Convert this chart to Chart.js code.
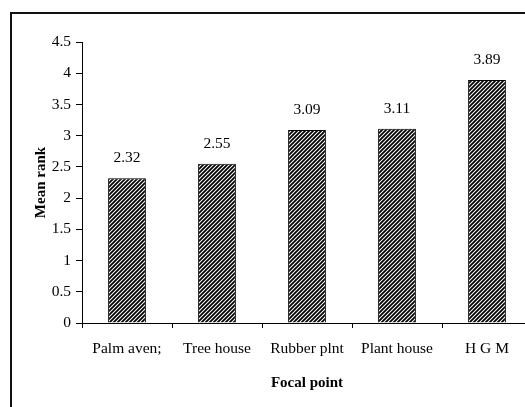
<!DOCTYPE html>
<html lang="en">
  <head>
    <meta charset="UTF-8" />
    <title>Mean rank by focal point</title>
    <script src="https://cdn.jsdelivr.net/npm/chart.js"></script>
    <style>
      html, body { margin: 0; padding: 0; overflow: hidden; background: #fff; width: 525px; height: 407px; }
      .quadro { position: absolute; left: 10px; top: 12px; width: 600px; height: 500px;
                border-left: 2px solid #111; border-top: 2px solid #111; }
      .grafico { position: absolute; left: 0; top: 0; width: 545px; height: 407px; }
    </style>
  </head>
  <body>
    <div class="quadro"></div>
    <div class="grafico"><canvas id="meuGrafico" width="545" height="407"></canvas></div>

    <script>
      // dados
      const categorias = ["Palm aven;", "Tree house", "Rubber plnt", "Plant house", "H G M"];
      const medias = [2.32, 2.55, 3.09, 3.11, 3.89];
      const rotulos = ["2.32", "2.55", "3.09", "3.11", "3.89"];
      const ticksY = [0, 0.5, 1, 1.5, 2, 2.5, 3, 3.5, 4, 4.5];

      // padrão hachurado (listras diagonais)
      function criarHachura() {
        const c = document.createElement("canvas");
        c.width = 4;
        c.height = 4;
        const g = c.getContext("2d");
        g.fillStyle = "#fff";
        g.fillRect(0, 0, 4, 4);
        g.strokeStyle = "#000";
        g.lineWidth = 1.8;
        g.beginPath();
        g.moveTo(-1, 5); g.lineTo(5, -1);
        g.moveTo(-1, 1); g.lineTo(1, -1);
        g.moveTo(3, 5); g.lineTo(5, 3);
        g.stroke();
        return g.createPattern(c, "repeat");
      }

      // escreve os valores acima das barras
      const valoresNasBarras = {
        id: "valoresNasBarras",
        afterDatasetsDraw(chart) {
          const ctx = chart.ctx;
          const meta = chart.getDatasetMeta(0);
          ctx.save();
          ctx.font = "15.5px 'Liberation Serif'";
          ctx.fillStyle = "#000";
          ctx.textAlign = "center";
          ctx.textBaseline = "middle";
          meta.data.forEach(function (barra, i) {
            ctx.fillText(rotulos[i], barra.x, barra.y - 20);
          });
          ctx.restore();
        }
      };

      const fonte = { family: "'Liberation Serif'", size: 15.5 };
      const fonteTitulo = { family: "'Liberation Serif'", size: 15, weight: "bold" };

      new Chart(document.getElementById("meuGrafico"), {
        type: "bar",
        data: {
          labels: categorias,
          datasets: [{
            data: medias,
            backgroundColor: criarHachura(),
            borderColor: "#000",
            borderWidth: 1,
            barPercentage: 0.42,
            categoryPercentage: 1
          }]
        },
        options: {
          responsive: false,
          animation: false,
          layout: { padding: { left: 0, top: 42, right: 13, bottom: 11 } },
          plugins: { legend: { display: false }, tooltip: { enabled: false } },
          scales: {
            x: {
              offset: true,
              grid: { display: true, drawOnChartArea: false, offset: true, color: "#000", tickLength: 5, tickWidth: 1 },
              border: { color: "#000", width: 1 },
              ticks: { color: "#000", font: fonte, padding: 12, maxRotation: 0 },
              title: { display: true, text: "Focal point", color: "#000", font: fonteTitulo, padding: { top: 10 } },
              afterFit(scale) { scale.height = 73; }
            },
            y: {
              min: 0,
              max: 4.5,
              afterBuildTicks(scale) { scale.ticks = ticksY.map(v => ({ value: v })); },
              grid: { display: true, drawOnChartArea: false, color: "#000", tickLength: 6, tickWidth: 1 },
              border: { color: "#000", width: 1 },
              ticks: { color: "#000", font: fonte, padding: 5, callback: v => String(v) },
              title: { display: true, text: "Mean rank", color: "#000", font: fonteTitulo, padding: { top: 32 } },
              afterFit(scale) { scale.width = 82; }
            }
          }
        },
        plugins: [valoresNasBarras]
      });
    </script>
  </body>
</html>
